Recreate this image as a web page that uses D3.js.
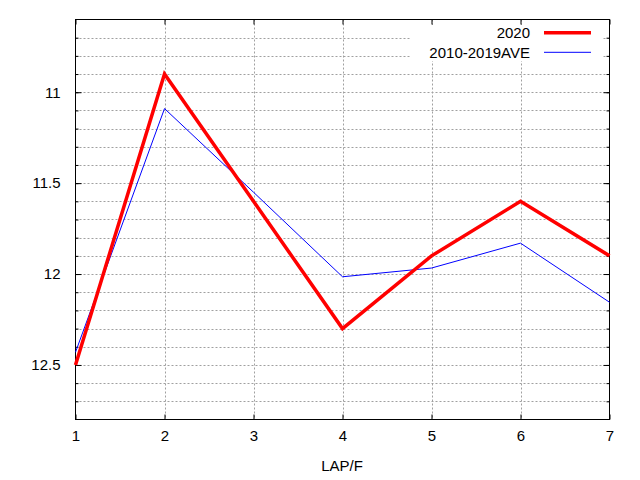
<!DOCTYPE html>
<html>
<head>
<meta charset="utf-8">
<script src="https://cdn.jsdelivr.net/npm/d3@7"></script>
<style>
  body { margin: 0; background: #fff; }
  text { font-family: "Liberation Sans", Arial, sans-serif; font-size: 15px; fill: #000; }
  .domain { display: none; }
</style>
</head>
<body>
<div id="chart"></div>
<script>
// data
var laps = [1, 2, 3, 4, 5, 6, 7];
var series2020 = [12.5, 10.9, 11.6, 12.3, 11.9, 11.6, 11.9];
var seriesAve = [12.43, 11.09, 11.55, 12.015, 11.967, 11.83, 12.155];
var seriesNames = ["2020", "2010-2019AVE"];
var xTicks = [1, 2, 3, 4, 5, 6, 7];
var yMajorTicks = [11, 11.5, 12, 12.5];
var yMinorTicks = [10.7, 10.8, 10.9, 11, 11.1, 11.2, 11.3, 11.4, 11.5, 11.6, 11.7,
                   11.8, 11.9, 12, 12.1, 12.2, 12.3, 12.4, 12.5, 12.6, 12.7];

var W = 640, H = 480;
var plotLeft = 75.5, plotRight = 609.5, plotTop = 19.5, plotBottom = 419.5;

var svg = d3.select("#chart").append("svg")
  .attr("width", W)
  .attr("height", H);

var x = d3.scaleLinear().domain([1, 7]).range([plotLeft, plotRight]);
// reversed axis: small values at the top
var y = d3.scaleLinear().domain([10.6, 12.8]).range([plotTop, plotBottom]);

// grid
svg.append("g").selectAll("line")
  .data(yMinorTicks)
  .enter().append("line")
  .attr("x1", plotLeft).attr("x2", plotRight)
  .attr("y1", d => Math.round(y(d)) + 0.5).attr("y2", d => Math.round(y(d)) + 0.5)
  .attr("stroke", "#a0a0a0").attr("stroke-dasharray", "2,2");

svg.append("g").selectAll("line")
  .data(xTicks.slice(1, -1))
  .enter().append("line")
  .attr("x1", d => Math.round(x(d)) + 0.5).attr("x2", d => Math.round(x(d)) + 0.5)
  .attr("y1", plotTop).attr("y2", plotBottom)
  .attr("stroke", "#a0a0a0").attr("stroke-dasharray", "2,2");

// axes: ticks pointing inwards on all four sides
svg.append("g")
  .attr("transform", `translate(${plotLeft}, 0)`)
  .call(d3.axisLeft(y).tickValues(yMajorTicks).tickSize(-6).tickPadding(15).tickFormat(d3.format("")));

svg.append("g")
  .attr("transform", `translate(${plotLeft}, 0)`)
  .call(d3.axisLeft(y).tickValues(yMinorTicks).tickSize(-3).tickFormat(""));

svg.append("g")
  .attr("transform", `translate(${plotRight}, 0)`)
  .call(d3.axisRight(y).tickValues(yMajorTicks).tickSize(-6).tickFormat(""));

svg.append("g")
  .attr("transform", `translate(${plotRight}, 0)`)
  .call(d3.axisRight(y).tickValues(yMinorTicks).tickSize(-3).tickFormat(""));

svg.append("g")
  .attr("transform", `translate(0, ${plotBottom})`)
  .call(d3.axisBottom(x).tickValues(xTicks).tickSize(-5).tickPadding(11).tickFormat(d3.format("d")));

svg.append("g")
  .attr("transform", `translate(0, ${plotTop})`)
  .call(d3.axisTop(x).tickValues(xTicks).tickSize(-5).tickFormat(""));

svg.selectAll(".tick line").attr("stroke", "#000");
svg.selectAll(".tick text").style("font-size", "15px");

// frame
svg.append("rect")
  .attr("x", plotLeft).attr("y", plotTop)
  .attr("width", plotRight - plotLeft).attr("height", plotBottom - plotTop)
  .attr("fill", "none").attr("stroke", "#000").attr("stroke-width", 1);

// legend box hides the grid behind it
svg.append("rect")
  .attr("x", 411).attr("y", 25)
  .attr("width", 191).attr("height", 36)
  .attr("fill", "#fff");

// lines
var line = d3.line()
  .x((d, i) => x(laps[i]))
  .y(d => y(d));

svg.append("path")
  .datum(seriesAve)
  .attr("d", line)
  .attr("fill", "none").attr("stroke", "#0000ff").attr("stroke-width", 1);

svg.append("path")
  .datum(series2020)
  .attr("d", line)
  .attr("fill", "none").attr("stroke", "#ff0000").attr("stroke-width", 3.5);

// legend
var legendColors = ["#ff0000", "#0000ff"];
var legendWidths = [3.5, 1];
var legend = svg.append("g");
seriesNames.forEach(function(name, i) {
  var ly = 32.7 + i * 19.6;
  legend.append("text")
    .attr("x", 530).attr("y", ly + 5.3)
    .attr("text-anchor", "end")
    .text(name);
  legend.append("line")
    .attr("x1", 544).attr("x2", 591)
    .attr("y1", ly).attr("y2", ly)
    .attr("stroke", legendColors[i]).attr("stroke-width", legendWidths[i]);
});

// axis title
svg.append("text")
  .attr("x", 342).attr("y", 471)
  .attr("text-anchor", "middle")
  .text("LAP/F");
</script>
</body>
</html>
